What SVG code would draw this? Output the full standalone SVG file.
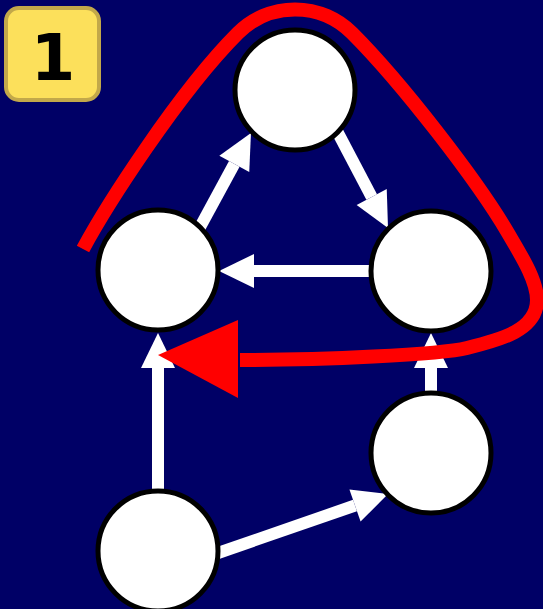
<svg xmlns="http://www.w3.org/2000/svg" width="543" height="609" viewBox="0 0 543 609">
  <style>
    .node { fill: #ffffff; stroke: #000000; stroke-width: 5; }
    .edge { stroke: #ffffff; stroke-width: 12; fill: none; }
    .badge { fill: #fce05b; stroke: #c2a84a; stroke-width: 4; }
    .badge-text { font-family: "DejaVu Sans", "Liberation Sans", sans-serif; font-weight: bold; font-size: 64px; fill: #000000; }
    .cycle { stroke: #ff0000; stroke-width: 14; fill: none; }
  </style>
  <defs>
    <marker id="head" markerUnits="userSpaceOnUse" markerWidth="36" markerHeight="36" refX="0" refY="17" orient="auto" overflow="visible">
      <path d="M0,0 L35,17 L0,34 z" fill="#ffffff"/>
    </marker>
  </defs>

  <rect width="543" height="609" fill="#000066"/>

  <!-- step badge -->
  <g id="badge">
    <rect class="badge" x="6" y="8" width="93" height="92" rx="13"/>
    <text class="badge-text" x="53" y="80" text-anchor="middle">1</text>
  </g>

  <!-- directed edges -->
  <g id="edges">
    <line class="edge" x1="199" y1="229" x2="234.3" y2="163.8" marker-end="url(#head)"/>
    <line class="edge" x1="337" y1="131" x2="371.7" y2="197" marker-end="url(#head)"/>
    <line class="edge" x1="370" y1="271" x2="254" y2="271" marker-end="url(#head)"/>
    <line class="edge" x1="158" y1="492" x2="158" y2="368" marker-end="url(#head)"/>
    <line class="edge" x1="431" y1="392" x2="431" y2="368" marker-end="url(#head)"/>
    <line class="edge" x1="218" y1="553" x2="355" y2="505.5" marker-end="url(#head)"/>
  </g>

  <!-- nodes -->
  <g id="n-top"><circle class="node" cx="295" cy="90" r="60"/></g>
  <g id="n-left"><circle class="node" cx="158" cy="270" r="60"/></g>
  <g id="n-right"><circle class="node" cx="431" cy="271" r="60"/></g>
  <g id="n-lowright"><circle class="node" cx="431" cy="453" r="60"/></g>
  <g id="n-bottom"><circle class="node" cx="158" cy="551" r="60"/></g>

  <!-- highlighted cycle -->
  <g id="cycle">
    <path class="cycle" d="M83,249 C105,208 178,93 238,33 A80.6,80.6 0 0 1 352,33 C402,83 477.7,181.2 508,233 C520.6,254.6 537,280 537,300 C537,330 501,339.6 467,348 C440,354.7 320,360 240,360"/>
    <polygon points="158,355 238,320 238,398" fill="#ff0000"/>
  </g>
</svg>
